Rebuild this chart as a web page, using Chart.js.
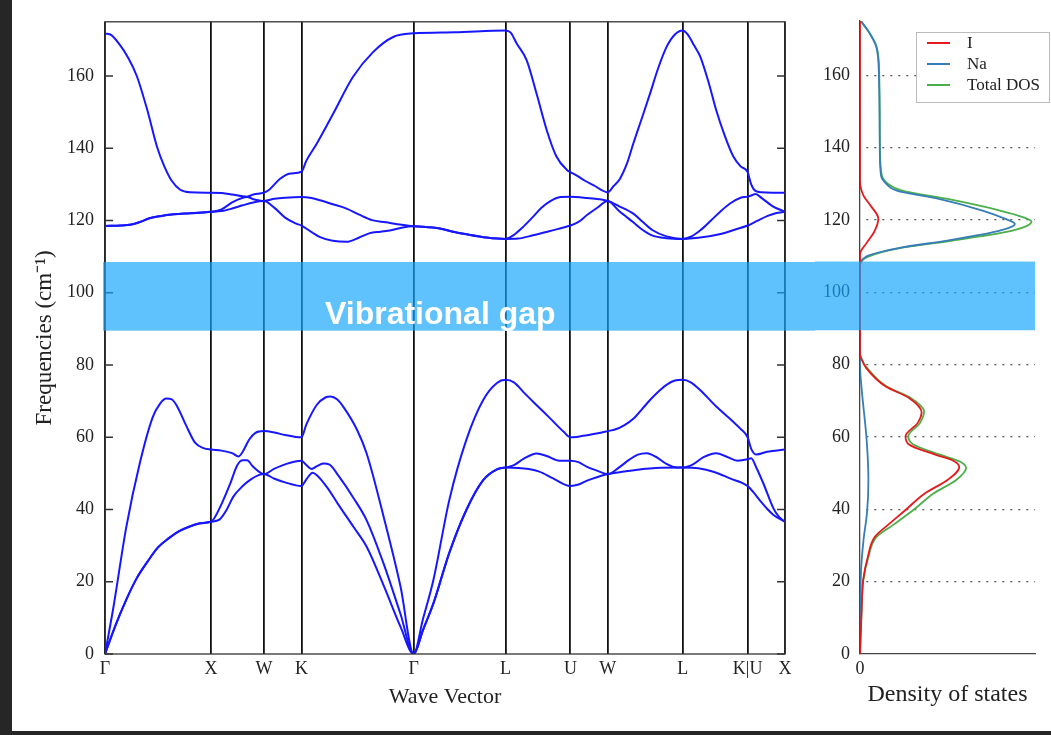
<!DOCTYPE html>
<html>
<head>
<meta charset="utf-8">
<script src="https://cdn.jsdelivr.net/npm/chart.js@4/dist/chart.umd.min.js"></script>
<style>
  body { margin: 0; background: #262626; width: 1051px; height: 735px; overflow: hidden; }
  #sheet { position: absolute; left: 12px; top: 0; width: 1039px; height: 731px; background: #fff; }
  #bands { position: absolute; left: 0; top: 0; }
  #dos { position: absolute; left: 803px; top: 0; }
</style>
</head>
<body>
<div id="sheet">
  <canvas id="bands" width="803" height="731"></canvas>
  <canvas id="dos" width="236" height="731"></canvas>
</div>
<script>
// high-symmetry path (units of 2pi/a) and labels
const kPoints = [0, 1, 1.5, 1.854, 2.914, 3.78, 4.393, 4.746, 5.453, 6.066, 6.419];
const kLabels = ['Γ', 'X', 'W', 'K', 'Γ', 'L', 'U', 'W', 'L', 'K|U', 'X'];
const freqTicks = [0, 20, 40, 60, 80, 100, 120, 140, 160];
const gapRange = [89.5, 108.5];

// phonon branches, sorted low -> high, [k, cm-1]
const band1 = [[0,0],[0.1,8],[0.2,15],[0.3,21],[0.4,25.5],[0.5,29.5],[0.6,32],[0.7,34],[0.8,35.3],[0.9,36.2],[1,36.6],
  [1.08,37.2],[1.15,40],[1.21,43.5],[1.3,46.5],[1.37,48.2],[1.45,49.5],[1.5,49.8],
  [1.6,48.5],[1.7,47.5],[1.854,46.5],
  [1.9,48.3],[1.96,50.2],[2.0,49.5],[2.1,46],[2.2,41.5],[2.35,35],[2.47,29.7],[2.63,19],[2.79,7.5],[2.914,0],
  [3.0,6.5],[3.1,14],[3.25,28],[3.41,39.8],[3.57,48.1],[3.7,51.1],[3.78,51.6],
  [3.9,51.5],[4.0,51.2],[4.1,50.5],[4.23,48.6],[4.393,46.5],
  [4.47,46.9],[4.55,48],[4.65,49],[4.746,49.8],
  [4.9,50.5],[5.05,51.1],[5.2,51.5],[5.453,51.6],
  [5.6,51.4],[5.75,50.4],[5.9,48.6],[6.066,46.5],
  [6.12,44.8],[6.18,42.6],[6.25,40.2],[6.31,38.5],[6.419,36.6]];
const band2 = [[0,0],[0.1,8],[0.2,15],[0.3,21],[0.4,25.5],[0.5,29.5],[0.6,32],[0.7,34],[0.8,35.3],[0.9,36.2],[1,36.6],
  [1.03,37.5],[1.1,41.5],[1.18,47],[1.25,52.3],[1.3,53.6],[1.34,53.6],[1.4,51.8],[1.5,49.8],
  [1.6,51.3],[1.7,52.5],[1.854,53.5],
  [1.9,52.3],[1.95,51.2],[2.0,52],[2.06,52.7],[2.12,52.4],[2.2,49.5],[2.35,43],[2.47,37],[2.63,25],[2.79,11],[2.914,0],
  [3.0,6.5],[3.1,14],[3.25,28],[3.41,39.8],[3.57,48.1],[3.7,51.1],[3.78,51.6],
  [3.86,52.3],[3.95,54],[4.075,55.5],[4.17,54.8],[4.29,53.5],[4.393,53.5],
  [4.47,53.1],[4.55,51.8],[4.65,50.7],[4.746,49.8],
  [4.85,51.6],[4.95,53.8],[5.03,55.2],[5.114,55.6],[5.2,54.6],[5.3,52.6],[5.4,51.6],[5.453,51.6],
  [5.55,52.5],[5.65,54.5],[5.77,55.6],[5.87,54.6],[5.97,53.5],[6.066,53.9],
  [6.1,54.2],[6.15,51.5],[6.215,47.2],[6.31,40.3],[6.36,38],[6.419,36.6]];
const band3 = [[0,0],[0.08,13],[0.2,35],[0.33,53],[0.45,65.5],[0.52,69.3],[0.58,70.7],[0.63,70.5],[0.68,68.6],[0.77,63],[0.85,58.5],[0.93,57],[1,56.6],
  [1.1,56.3],[1.2,55.6],[1.26,54.7],[1.3,56],[1.36,59.3],[1.42,61.2],[1.5,61.7],
  [1.6,61.3],[1.7,60.6],[1.8,60.1],[1.854,60],
  [1.9,63.5],[2.0,69],[2.08,71],[2.13,71.3],[2.19,70.5],[2.25,68.4],[2.38,62],[2.47,55.5],[2.63,38],[2.79,18.6],[2.914,0],
  [3.0,9.5],[3.1,20.5],[3.25,42.6],[3.41,59.2],[3.57,70.3],[3.7,75],[3.78,75.9],
  [3.86,75.2],[3.95,72.5],[4.07,69],[4.2,65.3],[4.33,61.5],[4.393,60],
  [4.45,60.1],[4.6,60.8],[4.746,61.7],
  [4.82,62.2],[4.9,63.3],[4.99,65.2],[5.07,67.8],[5.145,70.3],[5.23,72.8],[5.3,74.5],[5.38,75.7],[5.453,75.9],
  [5.53,75.2],[5.62,73],[5.77,68.5],[5.93,64.3],[6.0,62.3],[6.066,60],
  [6.1,56.8],[6.15,55.2],[6.25,56],[6.419,56.6]];
const band4 = [[0,118.5],[0.15,118.6],[0.25,118.9],[0.33,119.6],[0.42,120.6],[0.52,121.2],[0.65,121.7],[0.8,122],[1,122.4],
  [1.1,122.6],[1.2,123.3],[1.3,124.2],[1.4,125],[1.5,125.4],
  [1.6,123.5],[1.7,120.8],[1.8,119.2],[1.854,118.6],
  [1.95,116.8],[2.03,115.4],[2.15,114.4],[2.28,114.1],[2.4,115.3],[2.5,116.5],[2.6,116.9],[2.7,117.3],[2.8,118],[2.914,118.4],
  [3.0,118.3],[3.16,117.8],[3.3,116.8],[3.41,116.2],[3.6,115.3],[3.78,114.9],
  [3.9,115],[4.04,115.9],[4.2,117.1],[4.393,118.6],
  [4.47,119.6],[4.55,121.5],[4.65,123.6],[4.746,125.4],
  [4.85,122.7],[4.987,119.5],[5.08,117.3],[5.17,115.8],[5.3,115.1],[5.453,114.9],
  [5.6,115.2],[5.8,116.2],[5.95,117.5],[6.066,118.6],
  [6.15,119.8],[6.25,121.2],[6.33,122],[6.419,122.4]];
const band5 = [[0,118.5],[0.15,118.6],[0.25,118.9],[0.33,119.6],[0.42,120.6],[0.52,121.2],[0.65,121.7],[0.8,122],[1,122.4],
  [1.1,123.1],[1.2,125],[1.3,126.3],[1.34,126.5],[1.4,125.9],[1.5,125.4],
  [1.6,126],[1.7,126.3],[1.854,126.5],
  [1.95,126.2],[2.03,125.6],[2.15,124.5],[2.28,123.3],[2.4,121.6],[2.52,120.1],[2.65,119.5],[2.8,118.8],[2.914,118.4],
  [3.0,118.3],[3.16,117.8],[3.3,116.8],[3.41,116.2],[3.6,115.3],[3.78,114.9],
  [3.86,116],[3.95,118.3],[4.04,121],[4.12,123.5],[4.2,125.3],[4.3,126.5],[4.393,126.6],
  [4.55,126.2],[4.746,125.4],
  [4.85,124],[4.987,121.9],[5.08,119.5],[5.17,117.3],[5.3,115.6],[5.453,114.9],
  [5.53,115.5],[5.62,117.3],[5.72,120],[5.81,122.5],[5.9,124.7],[6.0,126.3],[6.066,126.6],
  [6.1,126.9],[6.14,127.3],[6.2,126.2],[6.3,124],[6.419,122.4]];
const band6 = [[0,171.8],[0.06,171.3],[0.13,169],[0.22,165],[0.3,160],[0.4,150.5],[0.49,140.5],[0.56,135],[0.63,131],[0.71,128.5],[0.8,127.8],[1,127.7],
  [1.1,127.6],[1.2,127.2],[1.3,126.7],[1.34,126.6],[1.4,127.2],[1.5,127.7],
  [1.55,128.5],[1.65,131.5],[1.75,133],[1.854,133.5],
  [1.9,136.5],[2.0,141.3],[2.155,149.6],[2.34,159.7],[2.53,166.6],[2.72,170.8],[2.914,171.8],
  [3.3,172.1],[3.78,172.6],
  [3.83,172],[3.886,169],[3.98,164.4],[4.075,155],[4.17,145],[4.26,137.8],[4.36,134],[4.393,133.4],
  [4.45,132.5],[4.53,131],[4.61,129.8],[4.746,127.8],
  [4.8,129.5],[4.86,131.5],[4.93,136],[4.987,141.3],[5.07,148.5],[5.145,155.1],[5.22,162],[5.3,168],[5.38,171.5],[5.453,172.6],
  [5.5,171.5],[5.56,168.5],[5.62,165.3],[5.7,158],[5.77,150.5],[5.85,143.5],[5.93,137.8],[6.0,135],[6.066,133.4],
  [6.1,130],[6.14,128.2],[6.2,127.8],[6.3,127.7],[6.419,127.7]];

// density of states, [cm-1, dos]
const dosLabels = ['I', 'Na', 'Total DOS'];
const dosI = [[0,0],[13,0.01],[20.4,0.018],[26.9,0.045],[32.4,0.085],[35.7,0.16],[39.8,0.26],[44.4,0.37],[48.1,0.5],[51.7,0.567],
  [53.5,0.53],[55.1,0.43],[57.9,0.28],[60.2,0.26],[63.9,0.33],[66.8,0.352],[70.8,0.28],[74,0.145],[79.1,0.035],[81.4,0.01],[83,0],
  [110.5,0],[113.8,0.04],[116.6,0.08],[120.3,0.105],[124,0.06],[126.7,0.02],[131,0],[175,0]];
const dosNa = [[0,0],[22,0.005],[31.5,0.02],[39,0.04],[48,0.048],[59.2,0.038],[73,0.01],[80,0],
  [107,0],[109.7,0.03],[112.4,0.24],[114.3,0.5],[116.6,0.76],[118.9,0.885],[120.5,0.82],[122.6,0.7],[125.8,0.45],[128.1,0.21],
  [130,0.15],[132.3,0.12],[139.7,0.113],[160,0.108],[167.9,0.093],[172,0.05],[175,0.005]];
const dosTotal = [[0,0],[13,0.01],[20.4,0.019],[26.9,0.048],[32.4,0.095],[35.7,0.19],[39.8,0.305],[44.4,0.42],[48.1,0.55],[51.4,0.606],
  [53.2,0.571],[55.1,0.457],[57.9,0.305],[60.2,0.276],[63.9,0.343],[67.1,0.366],[70.8,0.29],[74,0.15],[79.1,0.04],[81.4,0.01],[83,0],
  [107,0],[109.7,0.04],[112.4,0.25],[114.3,0.53],[116.6,0.83],[118.3,0.95],[119.5,0.98],[120.8,0.93],[122.6,0.8],[125.8,0.5],
  [128.1,0.24],[130,0.16],[132.3,0.125],[139.7,0.114],[160,0.11],[167.9,0.095],[172,0.05],[175,0.005]];

Chart.defaults.font.family = '"Liberation Serif", "Times New Roman", serif';
Chart.defaults.color = '#222';

const serif = size => ({ family: '"Liberation Serif", serif', size: size });

function gapPlugin(side) {
  return {
    id: 'gap',
    afterDraw(chart) {
      const { ctx, chartArea: a, scales: { y } } = chart;
      const top = y.getPixelForValue(gapRange[1]);
      const bot = y.getPixelForValue(gapRange[0]);
      const x0 = side === 'left' ? a.left - 2 : 0;
      const x1 = side === 'left' ? chart.width : a.right;
      ctx.save();
      ctx.fillStyle = 'rgba(20,165,250,0.68)';
      ctx.fillRect(x0, top, x1 - x0, bot - top);
      if (side === 'left') {
        ctx.fillStyle = '#fff';
        ctx.font = 'bold 32px "Liberation Sans", Arial, sans-serif';
        ctx.textBaseline = 'alphabetic';
        ctx.fillText('Vibrational gap', a.left + 220, bot - 7);
      }
      ctx.restore();
    }
  };
}

const frame = {
  id: 'frame',
  afterDatasetsDraw(chart) {
    const { ctx, chartArea: a, scales: { y } } = chart;
    ctx.save();
    ctx.strokeStyle = '#333';
    ctx.lineWidth = 1.3;
    ctx.strokeRect(a.left, a.top, a.right - a.left, a.bottom - a.top);
    freqTicks.forEach(v => {
      const py = y.getPixelForValue(v);
      ctx.beginPath();
      ctx.moveTo(a.left, py); ctx.lineTo(a.left + 8, py);
      ctx.moveTo(a.right, py); ctx.lineTo(a.right - 8, py);
      ctx.stroke();
    });
    ctx.restore();
  }
};

const dosLegend = {
  id: 'dosLegend',
  afterDraw(chart) {
    const { ctx } = chart;
    const x0 = 101, y0 = 32, w = 134, h = 70;
    ctx.save();
    ctx.fillStyle = '#fff';
    ctx.fillRect(x0, y0, w, h);
    ctx.strokeStyle = '#bbb';
    ctx.lineWidth = 1;
    ctx.strokeRect(x0 + 0.5, y0 + 0.5, w - 1, h);
    chart.data.datasets.forEach((ds, i) => {
      const ly = y0 + 11 + i * 21;
      ctx.strokeStyle = ds.borderColor;
      ctx.lineWidth = 2;
      ctx.beginPath();
      ctx.moveTo(x0 + 11, ly); ctx.lineTo(x0 + 34, ly);
      ctx.stroke();
      ctx.fillStyle = '#222';
      ctx.font = '17px "Liberation Serif", serif';
      ctx.textBaseline = 'middle';
      ctx.fillText(ds.label, x0 + 51, ly + 1);
    });
    ctx.restore();
  }
};

const bandData = [band1, band2, band3, band4, band5, band6];

new Chart(document.getElementById('bands'), {
  type: 'line',
  data: {
    datasets: bandData.map(b => ({
      data: b.map(p => ({ x: p[0], y: p[1] })),
      borderColor: '#1717ff',
      borderWidth: 2,
      pointRadius: 0,
      fill: false,
      cubicInterpolationMode: 'monotone'
    }))
  },
  options: {
    responsive: false,
    animation: false,
    events: [],
    layout: { padding: { top: 21, right: 30, left: 0, bottom: 0 } },
    plugins: { legend: { display: false }, tooltip: { enabled: false } },
    scales: {
      x: {
        type: 'linear',
        min: 0,
        max: kPoints[kPoints.length - 1],
        afterBuildTicks: s => { s.ticks = kPoints.map(v => ({ value: v })); },
        afterFit: s => { s.height = 77; },
        ticks: { autoSkip: false, maxRotation: 0, padding: 4, font: serif(18), callback: (v, i) => kLabels[i] },
        grid: { color: '#111', lineWidth: 1.8, drawTicks: false },
        border: { display: false },
        title: { display: true, text: 'Wave Vector', font: serif(22), color: '#222', padding: { top: 0, bottom: 21 } }
      },
      y: {
        min: 0,
        max: 175,
        afterBuildTicks: s => { s.ticks = freqTicks.map(v => ({ value: v })); },
        afterFit: s => { s.width = 93; },
        ticks: { padding: 11, font: serif(18) },
        grid: { display: false, drawTicks: false },
        border: { display: false },
        title: { display: true, text: 'Frequencies (cm⁻¹)', font: serif(23), color: '#222', padding: { top: 19, bottom: 0 } }
      }
    }
  },
  plugins: [frame, gapPlugin('left')]
});

const dosColors = ['#e41a1c', '#377eb8', '#4daf4a'];

new Chart(document.getElementById('dos'), {
  type: 'line',
  data: {
    datasets: [dosI, dosNa, dosTotal].map((d, i) => ({
      label: dosLabels[i],
      data: d.map(p => ({ x: p[1], y: p[0] })),
      borderColor: dosColors[i],
      borderWidth: 1.8,
      pointRadius: 0,
      fill: false,
      cubicInterpolationMode: 'monotone'
    }))
  },
  options: {
    responsive: false,
    animation: false,
    events: [],
    indexAxis: 'y',
    layout: { padding: { top: 21, right: 16, left: 0, bottom: 0 } },
    plugins: { legend: { display: false }, tooltip: { enabled: false } },
    scales: {
      x: {
        type: 'linear',
        min: 0,
        max: 1,
        afterBuildTicks: s => { s.ticks = [{ value: 0 }]; },
        afterFit: s => { s.height = 77; },
        ticks: { padding: 4, font: serif(18), callback: v => String(v) },
        grid: { display: false, drawTicks: false },
        border: { display: true, color: '#444', width: 1.3 },
        title: { display: true, text: 'Density of states', font: serif(24), color: '#222', padding: { top: 0, bottom: 22 } }
      },
      y: {
        type: 'linear',
        min: 0,
        max: 175,
        afterBuildTicks: s => { s.ticks = freqTicks.map(v => ({ value: v })); },
        afterFit: s => { s.width = 45; },
        ticks: { padding: 10, font: serif(18) },
        grid: {
          drawTicks: false,
          lineWidth: 1.2,
          color: c => (c.tick && c.tick.value === 0 ? 'rgba(0,0,0,0)' : '#555')
        },
        border: { display: true, color: '#444', width: 1.3, dash: [2, 6], dashOffset: -6 }
      }
    }
  },
  plugins: [dosLegend, gapPlugin('right')]
});
</script>
</body>
</html>
